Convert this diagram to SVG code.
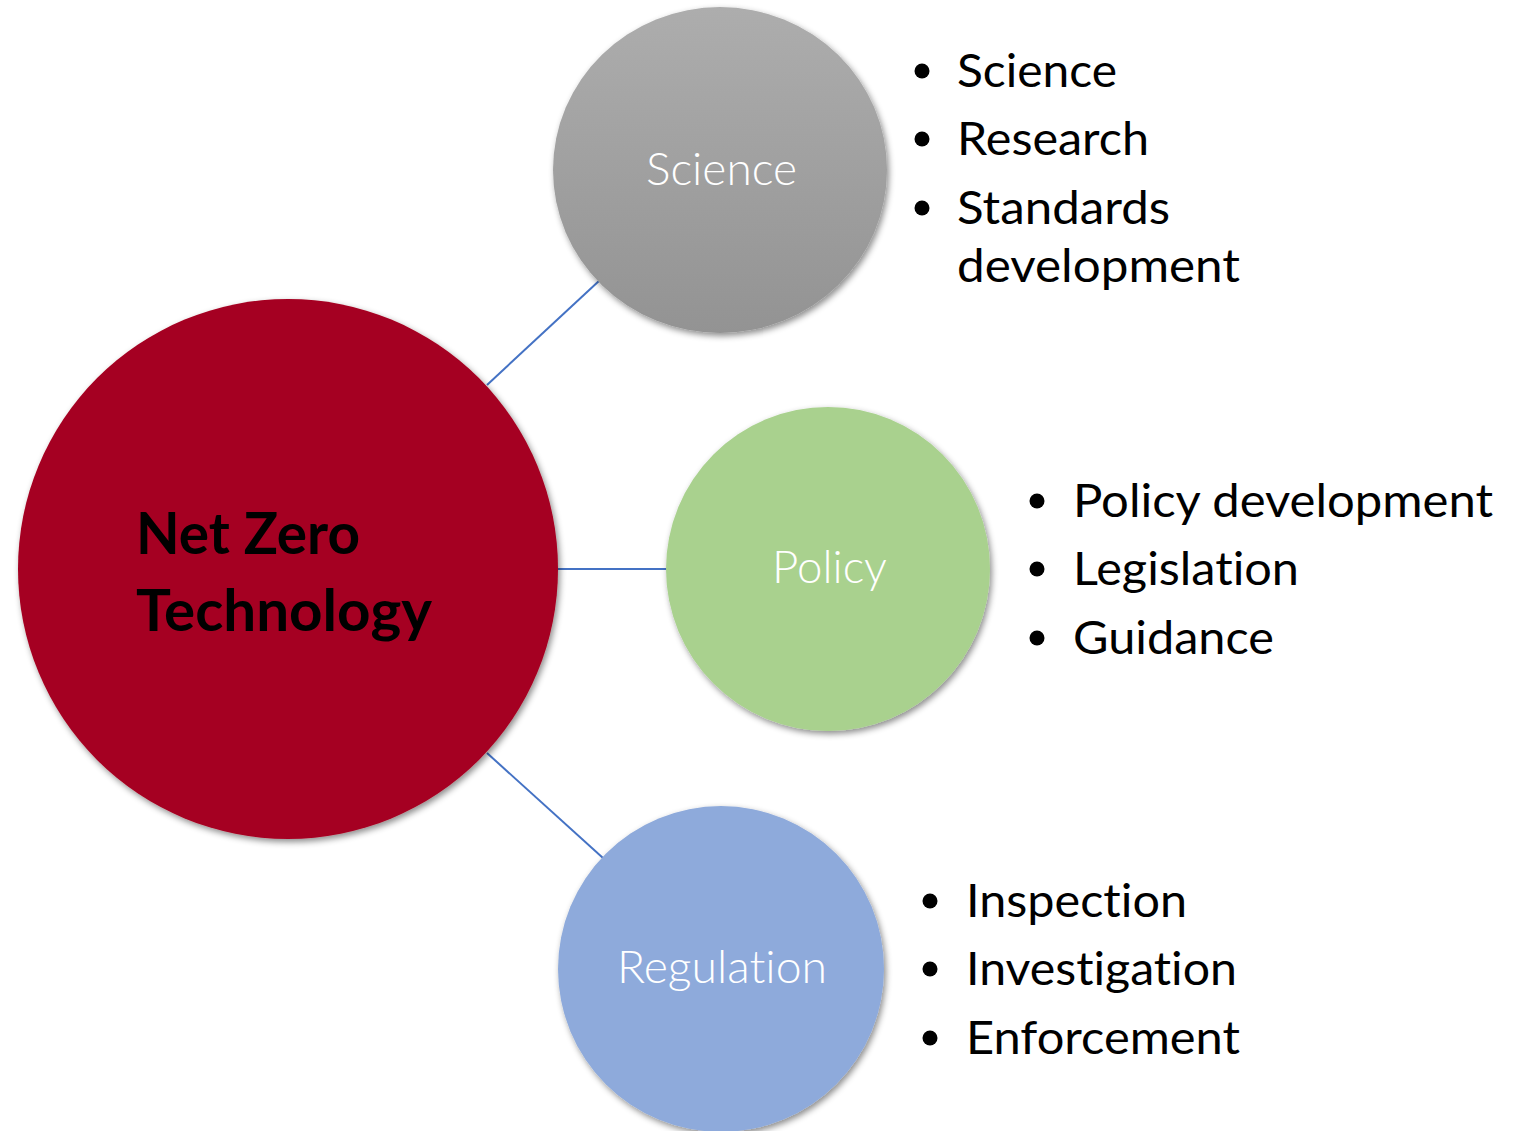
<svg xmlns="http://www.w3.org/2000/svg" width="1514" height="1131" viewBox="0 0 1514 1131">
<defs>
<linearGradient id="gGray" x1="0" y1="0" x2="0" y2="1">
<stop offset="0" stop-color="#adadad"/>
<stop offset="1" stop-color="#939393"/>
</linearGradient>
<filter id="sh" x="-10%" y="-10%" width="125%" height="125%">
<feDropShadow dx="2" dy="3" stdDeviation="3" flood-color="#000" flood-opacity="0.45"/>
</filter>
</defs>
<style>
text{font-variant-ligatures:none;font-feature-settings:"liga" 0,"dlig" 0;}
.lbl{font-family:Lato,"Open Sans","Liberation Sans",sans-serif;font-weight:300;font-size:45px;fill:#ffffff;}
.main{font-family:Lato,"Open Sans","Liberation Sans",sans-serif;font-weight:700;font-size:57px;fill:#000000;}
.item{font-family:Lato,"Open Sans","Liberation Sans",sans-serif;font-weight:400;font-size:46px;fill:#000000;}
.bul{fill:#000000;}
.conn{stroke:#4472c4;stroke-width:2;fill:none;}
</style>
<rect width="1514" height="1131" fill="#ffffff"/>
<g id="connectors">
<line class="conn" x1="487" y1="385" x2="600" y2="280"/>
<line class="conn" x1="558" y1="569" x2="667" y2="569"/>
<line class="conn" x1="487" y1="753" x2="603" y2="858"/>
</g>
<g id="node-netzero">
<circle cx="288" cy="569" r="270" fill="#a50021" filter="url(#sh)"/>
<text class="main" x="136" y="554" textLength="224" lengthAdjust="spacingAndGlyphs">Net Zero</text>
<text class="main" x="136" y="631" textLength="296" lengthAdjust="spacingAndGlyphs">Technology</text>
</g>
<g id="node-science">
<ellipse cx="720" cy="170" rx="167" ry="163" fill="url(#gGray)" filter="url(#sh)"/>
<text class="lbl" x="646" y="185" textLength="151" lengthAdjust="spacingAndGlyphs">Science</text>
</g>
<g id="node-policy">
<circle cx="828" cy="569" r="162" fill="#a9d18e" filter="url(#sh)"/>
<text class="lbl" x="772" y="583" textLength="115" lengthAdjust="spacingAndGlyphs">Policy</text>
</g>
<g id="node-regulation">
<circle cx="721" cy="969" r="163" fill="#8eaadb" filter="url(#sh)"/>
<text class="lbl" x="617" y="983" textLength="210" lengthAdjust="spacingAndGlyphs">Regulation</text>
</g>
<g id="list-science">
<circle class="bul" cx="922" cy="71" r="7.5"/>
<circle class="bul" cx="922" cy="139" r="7.5"/>
<circle class="bul" cx="922" cy="208" r="7.5"/>
<text class="item" x="957" y="87" textLength="160" lengthAdjust="spacingAndGlyphs">Science</text>
<text class="item" x="957" y="155" textLength="192" lengthAdjust="spacingAndGlyphs">Research</text>
<text class="item" x="957" y="224" textLength="213" lengthAdjust="spacingAndGlyphs">Standards</text>
<text class="item" x="957" y="282" textLength="283" lengthAdjust="spacingAndGlyphs">development</text>
</g>
<g id="list-policy">
<circle class="bul" cx="1037" cy="501" r="7.5"/>
<circle class="bul" cx="1037" cy="569" r="7.5"/>
<circle class="bul" cx="1037" cy="638" r="7.5"/>
<text class="item" x="1073" y="517" textLength="420" lengthAdjust="spacingAndGlyphs">Policy development</text>
<text class="item" x="1073" y="585" textLength="226" lengthAdjust="spacingAndGlyphs">Legislation</text>
<text class="item" x="1073" y="654" textLength="201" lengthAdjust="spacingAndGlyphs">Guidance</text>
</g>
<g id="list-regulation">
<circle class="bul" cx="930" cy="901" r="7.5"/>
<circle class="bul" cx="930" cy="969" r="7.5"/>
<circle class="bul" cx="930" cy="1038" r="7.5"/>
<text class="item" x="966" y="917" textLength="221" lengthAdjust="spacingAndGlyphs">Inspection</text>
<text class="item" x="966" y="985" textLength="271" lengthAdjust="spacingAndGlyphs">Investigation</text>
<text class="item" x="966" y="1054" textLength="274" lengthAdjust="spacingAndGlyphs">Enforcement</text>
</g>
</svg>
